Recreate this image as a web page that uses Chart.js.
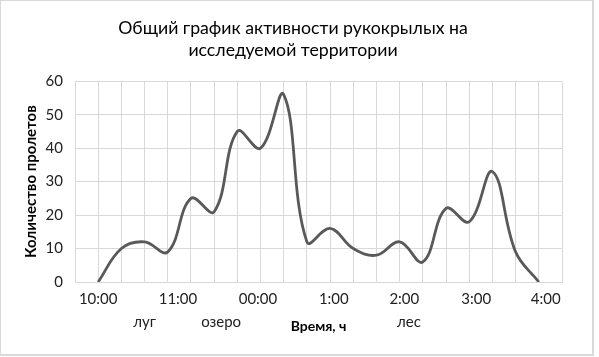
<!DOCTYPE html>
<html>
<head>
<meta charset="utf-8">
<script src="https://cdn.jsdelivr.net/npm/chart.js@4"></script>
<style>
    body { margin: 0; background: #fff; }
    #wrap { width: 599px; height: 357px; }
</style>
</head>
<body>
<div id="wrap"><canvas id="activity-chart" width="599" height="357"></canvas></div>
<script>
// Chart data (one value per grid step, starting at 10:00)
const counts = [0, 10, 12, 9, 25, 21, 45, 40, 56, 12, 16, 10, 8, 12, 6, 22, 18, 33, 9, 0];
const timeLabels = ['10:00', '11:00', '00:00', '1:00', '2:00', '3:00', '4:00'];
const timeTicks = [1, 4.44, 7.89, 11.16, 14.2, 17.3, 20.3];
const zoneLabels = ['луг', 'озеро', 'лес'];
const zoneTicks = [3, 6.3, 14.4];
const gridSteps = 21;

const titleLines = ['Общий график активности рукокрылых на', 'исследуемой территории'];

// Outer frame + white background
const framePlugin = {
    id: 'frame',
    beforeDraw(chart) {
        const ctx = chart.ctx;
        ctx.save();
        ctx.fillStyle = '#fff';
        ctx.fillRect(0, 0, chart.width, chart.height);
        ctx.strokeStyle = '#d9d9d9';
        ctx.lineWidth = 2;
        ctx.strokeRect(0, 0, 593, 355);
        ctx.restore();
    }
};

// Habitat labels under the time axis
const zonePlugin = {
    id: 'zones',
    afterDraw(chart) {
        const ctx = chart.ctx;
        const x = chart.scales.x;
        ctx.save();
        ctx.font = '15px Lato';
        ctx.fillStyle = '#222';
        ctx.textAlign = 'center';
        ctx.textBaseline = 'alphabetic';
        zoneLabels.forEach((label, i) => {
            ctx.fillText(label, x.getPixelForValue(zoneTicks[i]), chart.chartArea.bottom + 45);
        });
        ctx.restore();
    }
};

document.addEventListener('DOMContentLoaded', function() {
    const ctx = document.getElementById('activity-chart').getContext('2d');
    new Chart(ctx, {
        type: 'line',
        data: {
            datasets: [{
                data: counts.map((v, i) => ({ x: i + 1, y: v })),
                borderColor: '#595959',
                borderWidth: 2.8,
                tension: 0.4,
                pointRadius: 0,
                fill: false
            }]
        },
        options: {
            responsive: false,
            animation: false,
            layout: {
                padding: { left: 24, right: 37, top: 0, bottom: 18 }
            },
            plugins: {
                legend: { display: false },
                tooltip: { enabled: false },
                title: {
                    display: true,
                    text: titleLines,
                    color: '#000',
                    font: { family: 'Lato', size: 17.7, weight: 'normal', lineHeight: 1.25 },
                    padding: { top: 17, bottom: 20 }
                }
            },
            scales: {
                x: {
                    type: 'linear',
                    min: 0,
                    max: gridSteps,
                    afterBuildTicks: scale => {
                        const vals = [];
                        for (let i = 0; i <= gridSteps; i++) vals.push(i);
                        timeTicks.forEach(t => { if (!vals.includes(t)) vals.push(t); });
                        vals.sort((a, b) => a - b);
                        scale.ticks = vals.map(v => ({ value: v }));
                    },
                    afterFit: scale => { scale.height = 57; },
                    ticks: {
                        autoSkip: false,
                        maxRotation: 0,
                        padding: 8,
                        color: '#222',
                        font: { family: 'Lato', size: 15 },
                        callback: value => {
                            const idx = timeTicks.indexOf(value);
                            return idx >= 0 ? timeLabels[idx] : '';
                        }
                    },
                    grid: {
                        color: c => (c.tick && Number.isInteger(c.tick.value)) ? '#d9d9d9' : 'rgba(0,0,0,0)',
                        drawTicks: false
                    },
                    border: { color: '#d9d9d9' },
                    title: {
                        display: true,
                        text: 'Время, ч',
                        color: '#000',
                        font: { family: 'Lato', size: 14, weight: 'bold', lineHeight: 1.2 },
                        padding: { top: 0, bottom: 4 }
                    }
                },
                y: {
                    min: 0,
                    max: 60,
                    afterFit: scale => { scale.width = 51; },
                    ticks: {
                        stepSize: 10,
                        padding: 12,
                        color: '#222',
                        font: { family: 'Lato', size: 15 }
                    },
                    grid: { color: '#d9d9d9', drawTicks: false },
                    border: { color: '#d9d9d9' },
                    title: {
                        display: true,
                        text: 'Количество пролетов',
                        color: '#000',
                        font: { family: 'Lato', size: 15, weight: 'bold', lineHeight: 1.0 },
                        padding: { top: 0, bottom: 0 }
                    }
                }
            }
        },
        plugins: [framePlugin, zonePlugin]
    });
});
</script>
</body>
</html>
